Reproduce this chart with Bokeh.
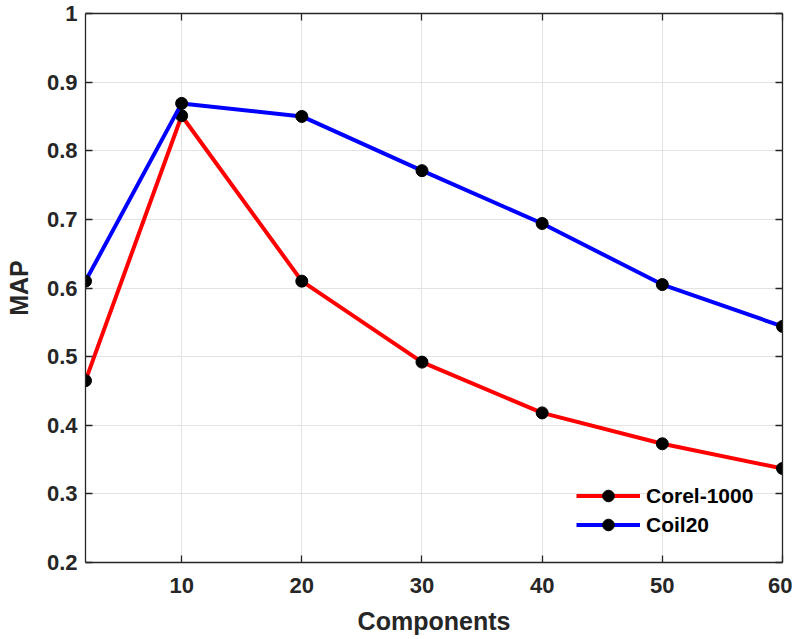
from bokeh.plotting import figure
from bokeh.models import (FixedTicker, LinearAxis, Legend, LegendItem, Range1d)
from bokeh.embed import file_html
from bokeh.resources import INLINE

components = [2, 10, 20, 30, 40, 50, 60]
corel_1000 = [0.465, 0.851, 0.610, 0.492, 0.418, 0.373, 0.337]
coil20 = [0.610, 0.869, 0.850, 0.771, 0.694, 0.605, 0.544]

x_ticks = [10, 20, 30, 40, 50, 60]
y_ticks = [0.2, 0.3, 0.4, 0.5, 0.6, 0.7, 0.8, 0.9, 1.0]
y_tick_labels = ["0.2", "0.3", "0.4", "0.5", "0.6", "0.7", "0.8", "0.9", "1"]

FONT = "Liberation Sans"
AX = "#262626"

p = figure(frame_width=697, frame_height=549, output_backend="svg", toolbar_location=None,
           x_range=Range1d(2, 60), y_range=Range1d(0.2, 1.0),
           min_border_left=85, min_border_right=10, min_border_top=13, min_border_bottom=75)
p.outline_line_color = None
p.background_fill_color = "white"
p.border_fill_color = "white"

def style_axis(ax, show_labels=True):
    ax.axis_line_color = AX
    ax.axis_line_width = 1.3
    ax.major_tick_line_color = AX
    ax.major_tick_line_width = 1.3
    ax.major_tick_in = 7
    ax.major_tick_out = 0
    ax.minor_tick_line_color = None
    ax.major_label_text_font = FONT
    ax.major_label_text_font_style = "bold"
    ax.major_label_text_font_size = "22px"
    ax.major_label_text_color = AX
    ax.axis_label_text_font = FONT
    ax.axis_label_text_font_style = "bold"
    ax.axis_label_text_font_size = "25px"
    ax.axis_label_text_color = AX
    if not show_labels:
        ax.major_label_text_color = None
        ax.major_label_text_font_size = "0px"
        ax.major_label_standoff = 0

xa = p.xaxis[0]
ya = p.yaxis[0]
xa.ticker = FixedTicker(ticks=x_ticks)
ya.ticker = FixedTicker(ticks=y_ticks)
ya.major_label_overrides = {t: l for t, l in zip(y_ticks, y_tick_labels)}
xa.axis_label = "Components"
ya.axis_label = "MAP"
style_axis(xa)
style_axis(ya)
xa.major_label_standoff = 15
ya.major_label_standoff = 8
xa.axis_label_standoff = 11
ya.axis_label_standoff = 11

top = LinearAxis(ticker=FixedTicker(ticks=x_ticks))
right = LinearAxis(ticker=FixedTicker(ticks=y_ticks))
style_axis(top, False)
style_axis(right, False)
p.add_layout(top, "above")
p.add_layout(right, "right")

p.xgrid.ticker = FixedTicker(ticks=x_ticks)
p.ygrid.ticker = FixedTicker(ticks=y_ticks)
p.grid.grid_line_color = "#e3e3e3"
p.grid.grid_line_width = 1

r1 = p.line(components, corel_1000, line_color="#ff0000", line_width=4)
s1 = p.scatter(components, corel_1000, size=12, fill_color="black", line_color="black")
r2 = p.line(components, coil20, line_color="#0000ff", line_width=4)
s2 = p.scatter(components, coil20, size=12, fill_color="black", line_color="black")

legend = Legend(items=[LegendItem(label="Corel-1000", renderers=[r1, s1]),
                       LegendItem(label="Coil20", renderers=[r2, s2])],
                location=(491, 23))
legend.border_line_color = None
legend.background_fill_alpha = 0
legend.padding = 0
legend.margin = 0
legend.spacing = 0
legend.glyph_width = 64
legend.glyph_height = 29
legend.label_standoff = 6
legend.label_text_font = FONT
legend.label_text_font_style = "bold"
legend.label_text_font_size = "21px"
legend.label_text_color = "black"
p.add_layout(legend, "center")

open("out.html", "w").write(file_html(p, INLINE))
